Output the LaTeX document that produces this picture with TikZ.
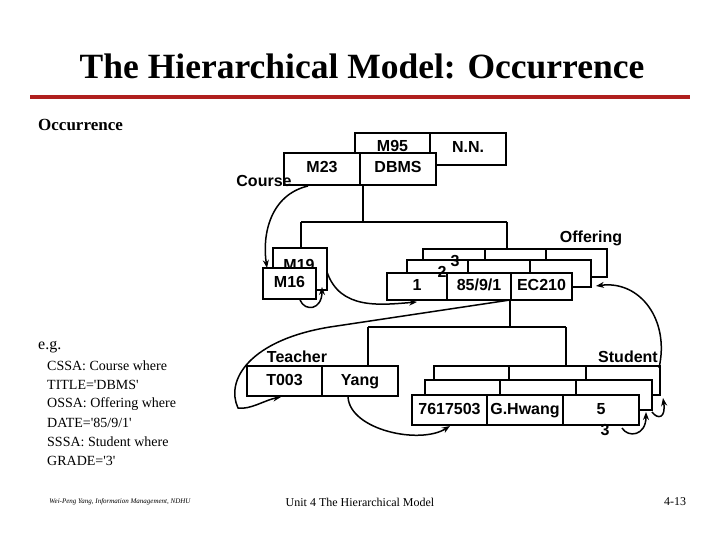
\documentclass[tikz,border=0pt]{standalone}
\usepackage{fontspec}
\setmainfont{Liberation Serif}
\newfontfamily\arial{Liberation Sans}
\usetikzlibrary{arrows.meta}
\definecolor{rule}{HTML}{B0201E}
\tikzset{
 cell/.style={draw, line width=1.4pt, fill=white, inner sep=0pt, text height=11pt, text depth=3pt, font=\arial\bfseries\fontsize{16}{16}\selectfont},
 lbl/.style={inner sep=0pt, font=\arial\bfseries\fontsize{16}{16}\selectfont},
 ln/.style={line width=1.4pt},
 arr/.style={line width=1.5pt, -{Stealth[length=8pt,width=6pt]}},
 txt/.style={inner sep=0pt, anchor=west, font=\fontsize{14}{14}\selectfont}
}
\newcommand{\cellat}[6]{\node[cell, minimum width=#4-#2, minimum height=#5-#3] (#1) at ({(#2+#4)/2},{(#3+#5)/2}) {#6};}
\newcommand{\sq}{\textquotesingle}
\begin{document}
\begin{tikzpicture}[x=1pt,y=-1pt]
\useasboundingbox (0,0) rectangle (720,540);
\node[inner sep=0pt, font=\bfseries\fontsize{35.5}{35.5}\selectfont] (title) at (362,66) {The Hierarchical Model: Occurrence};
\draw[rule, line width=4pt] (30,97) -- (690,97);
\node[txt, font=\bfseries\fontsize{17}{17}\selectfont] (occ) at (38,125) {Occurrence};
\node[txt, font=\fontsize{16}{16}\selectfont] (eg) at (38,347) {e.g.};
\node[txt] (t1) at (47,366) {CSSA: Course where};
\node[txt] (t2) at (47,385) {TITLE=\sq DBMS\sq};
\node[txt] (t3) at (47,404) {OSSA: Offering where};
\node[txt] (t4) at (47,423) {DATE=\sq 85/9/1\sq};
\node[txt] (t5) at (47,442) {SSSA: Student where};
\node[txt] (t6) at (47,461) {GRADE=\sq 3\sq};
\node[inner sep=0pt, font=\fontsize{7}{7}\itshape] (f1) at (120,502) {Wei-Peng Yang, Information Management, NDHU};
\node[inner sep=0pt, font=\fontsize{12}{12}\selectfont] (f2) at (360,502) {Unit 4 The Hierarchical Model};
\node[inner sep=0pt, font=\fontsize{12}{12}\selectfont] (f3) at (675,502) {4-13};
% Course
\cellat{m95}{355}{133}{430}{163}{M95}
\cellat{nn}{430}{133}{506}{165}{N.N.}
\cellat{m23}{284}{153}{360}{185}{M23}
\cellat{dbms}{360}{153}{436}{185}{DBMS}
\node[lbl] (course) at (264,181) {Course};
% tree lines
\coordinate (j1) at (363,222); \coordinate (j1l) at (301,222); \coordinate (j1r) at (507,222);
\draw[ln] (363,185) -- (j1) (j1l) -- (j1r) (j1l) -- (301,248) (j1r) -- (507,249);
% M19/M16
\cellat{m19}{273}{248}{327}{290}{}
\node[lbl] (m19t) at (299,265) {M19};
\cellat{m16}{263}{268}{316}{299}{M16}
% Offering
\cellat{o3a}{423}{249}{485}{277}{}
\cellat{o3b}{485}{249}{546}{277}{}
\cellat{o3c}{546}{249}{607}{277}{}
\cellat{o2a}{407}{260}{468}{287}{}
\cellat{o2b}{468}{260}{530}{287}{}
\cellat{o2c}{530}{260}{591}{287}{}
\cellat{o1a}{387}{273}{447}{300}{1}
\cellat{o1b}{447}{273}{511}{300}{85/9/1}
\cellat{o1c}{511}{273}{572}{300}{EC210}
\node[lbl] (n2) at (442,272) {2};
\node[lbl] (n3) at (455,261) {3};
\node[lbl] (offering) at (591,238) {Offering};
\draw[ln] (510,300) -- (510,327) (368,327) -- (566,327) (368,327) -- (368,366) (566,327) -- (566,366);
% Teacher
\cellat{t003}{247}{366}{322}{396}{T003}
\cellat{yang}{322}{366}{398}{396}{Yang}
\node[lbl] (teacher) at (297,357) {Teacher};
% Student
\cellat{s3a}{434}{366}{509}{395}{}
\cellat{s3b}{509}{366}{586}{395}{}
\cellat{s3c}{586}{366}{660}{395}{}
\cellat{s2a}{425}{380}{500}{410}{}
\cellat{s2b}{500}{380}{576}{410}{}
\cellat{s2c}{576}{380}{652}{410}{}
\cellat{s1a}{412}{395}{487}{425}{7617503}
\cellat{s1b}{487}{395}{563}{425}{G.Hwang}
\cellat{s1c}{563}{395}{639}{425}{5}
\node[lbl] (n3s) at (605,430) {3};
\node[lbl] (student) at (628,357) {Student};
% pointers
\draw[arr] (308,186) .. controls (270,195) and (262,235) .. (267,268);
\draw[arr] (300,300) .. controls (305,312) and (322,310) .. (322,287);
\draw[arr] (327,272) .. controls (340,310) and (380,305) .. (417,302);
\draw[arr] (510,300) -- (330,327) .. controls (250,340) and (225,380) .. (238,408) .. controls (250,410) and (265,400) .. (281,397);
\draw[arr] (348,397) .. controls (350,430) and (420,445) .. (450,426);
\draw[arr] (622,428) .. controls (628,438) and (646,436) .. (646,412);
\draw[arr] (652,412) .. controls (658,420) and (666,418) .. (663,398);
\draw[arr] (659,368) .. controls (670,320) and (640,280) .. (596,286);
\end{tikzpicture}
\end{document}
